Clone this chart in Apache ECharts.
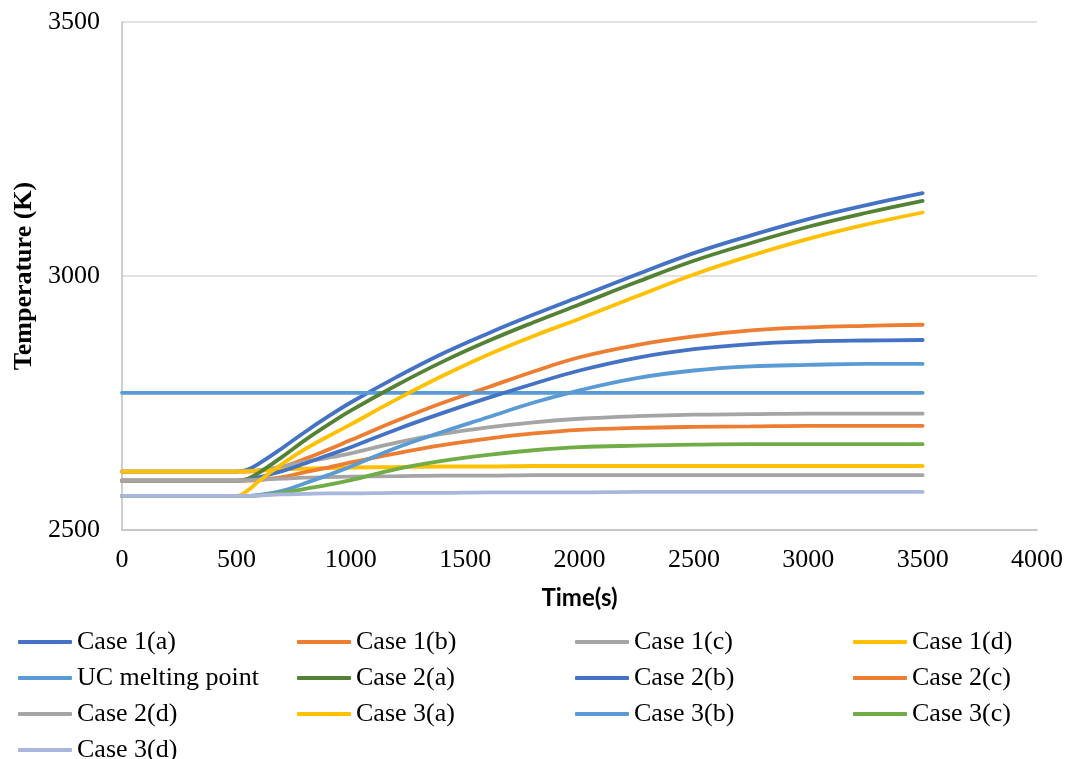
<!DOCTYPE html>
<html>
<head>
<meta charset="utf-8">
<title>Temperature vs Time</title>
<script src="https://cdn.jsdelivr.net/npm/echarts@6/dist/echarts.min.js"></script>
<style>
  html, body { margin: 0; padding: 0; background: #ffffff; }
  #chart { width: 1067px; height: 759px; }
</style>
</head>
<body>
<div id="chart"></div>
<script>
// Sample times (s) shared by every transient case
const times = [0, 500, 550, 600, 700, 800, 900, 1000, 1200, 1400, 1600, 1800, 2000, 2250, 2500, 2750, 3000, 3250, 3500];

// Temperatures (K) at each sample time
const case1a = [2615, 2615, 2619, 2631, 2661, 2693, 2723, 2751, 2801, 2847, 2887, 2924, 2959, 3003, 3045, 3080, 3112, 3139, 3163];
const case1b = [2615, 2615, 2615, 2617, 2624, 2640, 2658, 2677, 2715, 2750, 2781, 2812, 2840, 2864, 2881, 2893, 2899, 2902, 2904];
const case1c = [2615, 2615, 2616, 2618, 2625, 2634, 2642, 2651, 2672, 2689, 2702, 2712, 2719, 2724, 2727, 2728, 2729, 2729, 2729];
const case1d = [2615, 2615, 2616, 2617, 2619, 2621, 2622, 2623, 2624, 2625, 2625, 2626, 2626, 2626, 2626, 2626, 2626, 2626, 2626];
const case2a = [2597, 2597, 2601, 2613, 2644, 2677, 2707, 2735, 2785, 2831, 2872, 2909, 2944, 2988, 3030, 3065, 3097, 3124, 3148];
const case2b = [2597, 2597, 2598, 2604, 2616, 2631, 2647, 2663, 2698, 2730, 2760, 2788, 2814, 2839, 2856, 2866, 2871, 2873, 2874];
const case2c = [2597, 2597, 2597, 2599, 2604, 2614, 2623, 2633, 2651, 2667, 2680, 2690, 2697, 2701, 2703, 2704, 2705, 2705, 2705];
const case2d = [2597, 2597, 2598, 2599, 2601, 2603, 2604, 2605, 2606, 2607, 2607, 2608, 2608, 2608, 2608, 2608, 2608, 2608, 2608];
const case3a = [2567, 2567, 2578, 2597, 2630, 2659, 2684, 2708, 2757, 2803, 2845, 2882, 2916, 2960, 3003, 3040, 3073, 3101, 3125];
const case3b = [2567, 2567, 2567, 2569, 2577, 2592, 2608, 2625, 2662, 2693, 2722, 2751, 2775, 2799, 2814, 2822, 2825, 2827, 2827];
const case3c = [2567, 2567, 2567, 2568, 2573, 2581, 2589, 2598, 2620, 2636, 2648, 2657, 2663, 2666, 2668, 2669, 2669, 2669, 2669];
const case3d = [2567, 2567, 2567, 2568, 2570, 2571, 2572, 2572, 2573, 2573, 2574, 2574, 2574, 2575, 2575, 2575, 2575, 2575, 2575];

// UC melting point reference line
const meltTimes = [0, 3500];
const meltTemp = [2770, 2770];

// Axis ranges and ticks
const xTicks = { min: 0, max: 4000, interval: 500 };
const yTicks = { min: 2500, max: 3500, interval: 500 };

// Legend blocks: [names, left, top]; rows are 36px apart
const legendBlocks = [
  [['Case 1(a)', 'UC melting point', 'Case 2(d)'], 18, 629],
  [['Case 3(d)'], 18, 737],
  [['Case 1(b)', 'Case 2(a)', 'Case 3(a)'], 297, 629],
  [['Case 1(c)', 'Case 2(b)', 'Case 3(b)'], 575, 629],
  [['Case 1(d)', 'Case 2(c)', 'Case 3(c)'], 853, 629]
];

const seriesDefs = [
  { name: 'Case 1(a)', t: times, v: case1a, color: '#4472C4' },
  { name: 'Case 1(b)', t: times, v: case1b, color: '#ED7D31' },
  { name: 'Case 1(c)', t: times, v: case1c, color: '#A5A5A5' },
  { name: 'Case 1(d)', t: times, v: case1d, color: '#FFC000' },
  { name: 'UC melting point', t: meltTimes, v: meltTemp, color: '#5B9BD5' },
  { name: 'Case 2(a)', t: times, v: case2a, color: '#548235' },
  { name: 'Case 2(b)', t: times, v: case2b, color: '#4472C4' },
  { name: 'Case 2(c)', t: times, v: case2c, color: '#ED7D31' },
  { name: 'Case 2(d)', t: times, v: case2d, color: '#A5A5A5' },
  { name: 'Case 3(a)', t: times, v: case3a, color: '#FFC000' },
  { name: 'Case 3(b)', t: times, v: case3b, color: '#5B9BD5' },
  { name: 'Case 3(c)', t: times, v: case3c, color: '#70AD47' },
  { name: 'Case 3(d)', t: times, v: case3d, color: '#A9B7DF' }
];

const serif = '"Liberation Serif", "Times New Roman", serif';

const chart = echarts.init(document.getElementById('chart'), null, { renderer: 'canvas' });

const option = {
  backgroundColor: '#ffffff',
  animation: false,
  grid: { left: 122, right: 30, top: 22, bottom: 229, containLabel: false },
  xAxis: {
    type: 'value',
    min: xTicks.min, max: xTicks.max, interval: xTicks.interval,
    name: 'Time(s)',
    nameLocation: 'middle',
    nameGap: 56,
    nameTextStyle: { fontFamily: 'Lato, "Open Sans", sans-serif', fontWeight: 'bold', fontSize: 24, color: '#000' },
    axisLine: { show: true, lineStyle: { color: '#BFBFBF', width: 1.5 } },
    axisTick: { show: false },
    splitLine: { show: false },
    axisLabel: { fontFamily: serif, fontSize: 26, color: '#000', margin: 17, formatter: v => String(v) }
  },
  yAxis: {
    type: 'value',
    min: yTicks.min, max: yTicks.max, interval: yTicks.interval,
    name: 'Temperature (K)',
    nameLocation: 'middle',
    nameGap: 80,
    nameTextStyle: { fontFamily: serif, fontWeight: 'bold', fontSize: 26, color: '#000' },
    axisLine: { show: true, lineStyle: { color: '#BFBFBF', width: 1.5 } },
    axisTick: { show: false },
    splitLine: { show: true, lineStyle: { color: '#D9D9D9', width: 1.5 } },
    axisLabel: { fontFamily: serif, fontSize: 26, color: '#000', margin: 22, formatter: v => String(v) }
  },
  legend: legendBlocks.map(([names, left, top]) => ({
    data: names,
    orient: 'vertical',
    left: left,
    top: top,
    padding: 0,
    itemGap: 10,
    itemWidth: 54,
    itemHeight: 4,
    icon: 'roundRect',
    selectedMode: false,
    textStyle: { fontFamily: serif, fontSize: 26, lineHeight: 26, color: '#000' }
  })),
  series: seriesDefs.map(s => ({
    name: s.name,
    type: 'line',
    data: s.t.map((t, i) => [t, s.v[i]]),
    smooth: 0.4,
    symbol: 'none',
    lineStyle: { color: s.color, width: 3.8, cap: 'round' },
    itemStyle: { color: s.color }
  }))
};

chart.setOption(option);
</script>
</body>
</html>
